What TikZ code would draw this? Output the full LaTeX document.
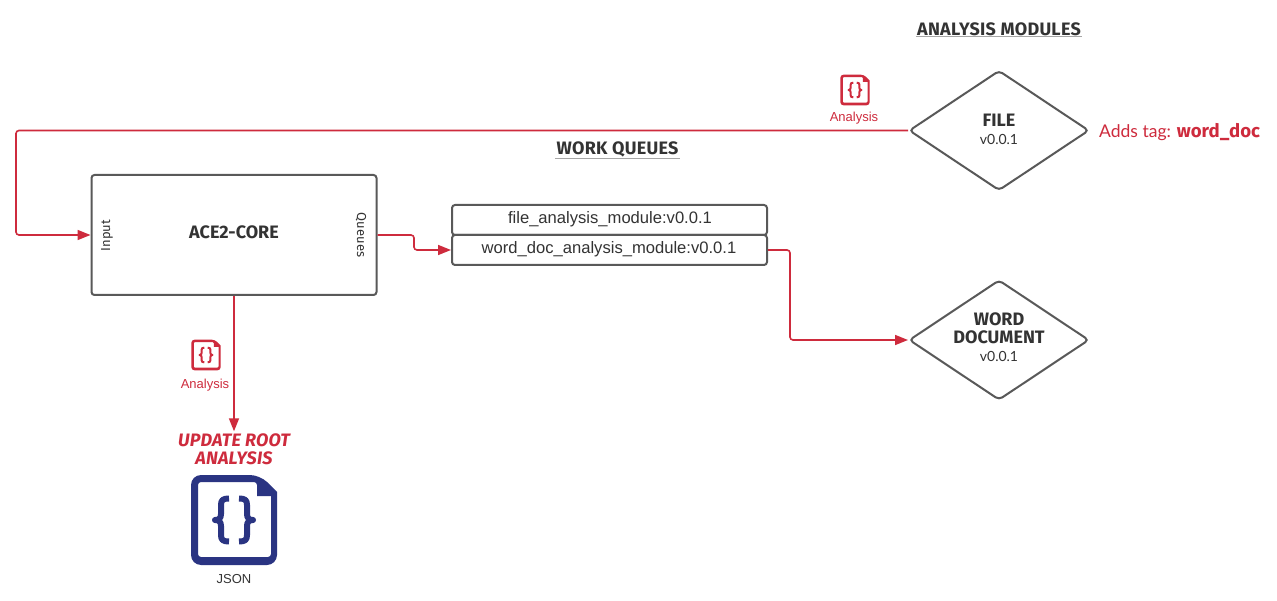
\documentclass[tikz,border=0pt]{standalone}
\usepackage{fontspec}
\setmainfont{Liberation Sans}
\newfontfamily\comic{Fira Sans}
\newfontfamily\hand{Lato}
\usetikzlibrary{shapes.geometric,arrows.meta}
\definecolor{accent}{HTML}{CE2B3D}
\definecolor{navy}{HTML}{2A3482}
\definecolor{edge}{HTML}{595959}
\definecolor{ink}{HTML}{333333}
\tikzset{
  box/.style={draw=edge,line width=2pt,rounded corners=3pt,fill=white,inner sep=0pt},
  gate/.style={draw=edge,line width=2pt,rounded corners=4pt,diamond,aspect=1.5,minimum width=180pt,minimum height=120pt,inner sep=0pt,fill=white},
  conn/.style={draw=accent,line width=1.6pt,rounded corners=3pt,-{Triangle[length=13pt,width=10pt,fill=accent]}},
  heading/.style={font=\comic\bfseries\fontsize{18}{20}\selectfont,text=ink,inner sep=1pt},
  title/.style={font=\comic\bfseries\fontsize{18}{18}\selectfont,text=ink,align=center,inner sep=0pt},
  ver/.style={font=\hand\fontsize{14}{16}\selectfont,text=ink,inner sep=0pt},
  sideup/.style={font=\comic\fontsize{13}{15}\selectfont,text=ink,rotate=90,inner sep=0pt},
  sidedown/.style={font=\comic\fontsize{13}{15}\selectfont,text=ink,rotate=-90,inner sep=0pt},
  small/.style={font=\fontsize{13}{15}\selectfont,text=accent,inner sep=0pt},
  rule/.style={draw=gray!70,line width=.8pt},
  pics/docicon/.style args={#1/#2/#3/#4}{code={
    \fill[#1,even odd rule,rounded corners=#3]
      (-43,-45) -- (26,-45) [sharp corners] -- (43,-28) [rounded corners=#3] -- (43,45) -- (-43,45) -- cycle
      [rounded corners=#4] (-36,-38) -- (23,-38) [sharp corners] -- (23,-24) -- (37,-24) [rounded corners=#4] -- (37,37) -- (-36,37) -- cycle;
    \draw[#1,line width=#2,line cap=butt,line join=round]
      (-5,-21.5) .. controls (-11,-21.5) and (-13,-20) .. (-13,-15) -- (-13,-6) .. controls (-13,-2) and (-15,0) .. (-19,0)
      .. controls (-15,0) and (-13,2) .. (-13,6) -- (-13,15) .. controls (-13,20) and (-11,21.5) .. (-5,21.5);
    \draw[#1,line width=#2,line cap=butt,line join=round]
      (5,-21.5) .. controls (11,-21.5) and (13,-20) .. (13,-15) -- (13,-6) .. controls (13,-2) and (15,0) .. (19,0)
      .. controls (15,0) and (13,2) .. (13,6) -- (13,15) .. controls (13,20) and (11,21.5) .. (5,21.5);
  }}
}
\begin{document}
\begin{tikzpicture}[x=1pt,y=-1pt]
\useasboundingbox (0,0) rectangle (1277,601);
\fill[white] (0,0) rectangle (1277,601);

\node[heading] (amhead) at (999,29) {\addfontfeature{LetterSpace=1.5}ANALYSIS MODULES};
\node[heading] (wqhead) at (617.5,149) {\addfontfeature{LetterSpace=1.5}WORK QUEUES};
\draw[rule] (amhead.south west) -- (amhead.south east);
\draw[rule] (wqhead.south west) -- (wqhead.south east);

\node[box,minimum width=285pt,minimum height=120pt] (core) at (234,235) {};
\node[title] (coretitle) at (234,232) {ACE2-CORE};
\node[sideup] (inlabel) at (107,235.5) {Input};
\node[sidedown] (outlabel) at (361,235) {Queues};

\node[box,minimum width=315pt,minimum height=30pt] (fq) at (609.5,220) {};
\node[box,minimum width=315pt,minimum height=30pt] (wq) at (609.5,250) {};
\node[font=\fontsize{16.6}{18}\selectfont,text=ink,inner sep=0pt] (fqt) at (610,219) {file\_analysis\_module:v0.0.1};
\node[font=\fontsize{16.6}{18}\selectfont,text=ink,inner sep=0pt] (wqt) at (609,249) {word\_doc\_analysis\_module:v0.0.1};

\node[gate] (file) at (999,130.5) {};
\node[title] (filet) at (999,120) {FILE};
\node[ver] (filev) at (999,139) {v0.0.1};

\node[gate] (word) at (999,340) {};
\node[title] (wordt) at (999,328) {WORD\\DOCUMENT};
\node[ver] (wordv) at (999,356) {v0.0.1};

\node[font=\hand\fontsize{17.5}{22}\selectfont,text=accent,inner sep=0pt,anchor=west] (tag) at (1099,132) {Adds tag: {\comic\bfseries\fontsize{18.6}{22}\selectfont word\_doc}};

\coordinate (leftrail) at (16,130.5);
\coordinate (qbend) at (414,242);
\coordinate (wbend) at (790,300);
\draw[conn] (file.west) -- (leftrail) |- (core.west);
\draw[conn] (core.east) -| (qbend) |- (wq.west);
\draw[conn] (wq.east) -| (wbend) |- (word.west);

\node[inner sep=0pt,minimum width=120pt,minimum height=36pt,align=center,
  font=\comic\bfseries\itshape\fontsize{18}{18}\selectfont,text=accent] (update) at (234,449.5) {\addfontfeature{LetterSpace=1}UPDATE ROOT\\\addfontfeature{LetterSpace=1}ANALYSIS};
\draw[conn] (core.south) -- (update.north);

\pic[scale=.34] at (855,90) {docicon={accent/2pt/3pt/1pt}};
\node[small] (a1) at (854,118.5) {Analysis};
\pic[scale=.34] at (206,355) {docicon={accent/2pt/3pt/1pt}};
\node[small] (a2) at (205,385) {Analysis};

\pic at (234,520) {docicon={navy/6pt/10pt/3pt}};
\node[font=\fontsize{13}{15}\selectfont,text=ink,inner sep=0pt] (json) at (234,579) {JSON};
\end{tikzpicture}
\end{document}
